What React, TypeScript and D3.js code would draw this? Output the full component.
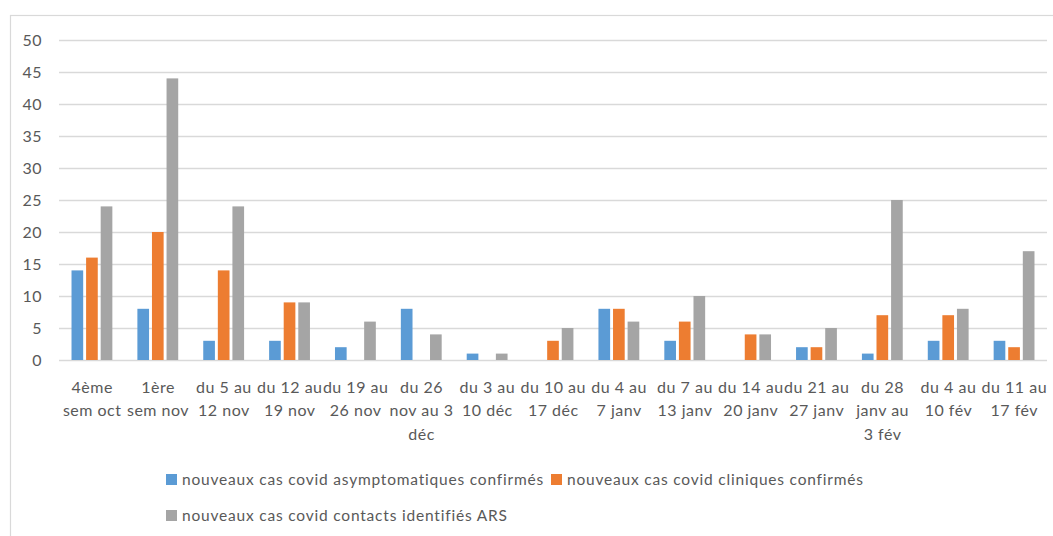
import React from "react";
import * as d3 from "d3";

const categories: string[][] = [
  ["4ème", "sem oct"],
  ["1ère", "sem nov"],
  ["du 5 au", "12 nov"],
  ["du 12 au", "19 nov"],
  ["du 19 au", "26 nov"],
  ["du 26", "nov au 3", "déc"],
  ["du 3 au", "10 déc"],
  ["du 10 au", "17 déc"],
  ["du 4 au", "7 janv"],
  ["du 7 au", "13 janv"],
  ["du 14 au", "20 janv"],
  ["du 21 au", "27 janv"],
  ["du 28", "janv au", "3 fév"],
  ["du 4 au", "10 fév"],
  ["du 11 au", "17 fév"],
];

const asymptomatiques = [14, 8, 3, 3, 2, 8, 1, 0, 8, 3, 0, 2, 1, 3, 3];
const cliniques = [16, 20, 14, 9, 0, 0, 0, 3, 8, 6, 4, 2, 7, 7, 2];
const contacts = [24, 44, 24, 9, 6, 4, 1, 5, 6, 10, 4, 5, 25, 8, 17];

const seriesNames = [
  "nouveaux cas covid asymptomatiques confirmés",
  "nouveaux cas covid cliniques confirmés",
  "nouveaux cas covid contacts identifiés ARS",
];
const colors = ["#5B9BD5", "#ED7D31", "#A5A5A5"];
const yTicks = [0, 5, 10, 15, 20, 25, 30, 35, 40, 45, 50];

const App = () => {
  const width = 1053;
  const height = 536;
  const plot = { left: 59, right: 1047, top: 40, bottom: 360 };
  const font = "Lato, 'Liberation Sans', sans-serif";
  const textColor = "#595959";
  const grid = "#D9D9D9";

  const series = [asymptomatiques, cliniques, contacts];

  // scales
  const x0 = d3
    .scaleBand<number>()
    .domain(d3.range(categories.length))
    .range([plot.left, plot.right])
    .paddingInner(0.38)
    .paddingOuter(0.19);
  const x1 = d3
    .scaleBand<number>()
    .domain([0, 1, 2])
    .range([0, x0.bandwidth()])
    .paddingInner(0.2);
  const y = d3.scaleLinear().domain([0, 50]).range([plot.bottom, plot.top]);
  const step = x0.step();

  // legend layout
  const legend = [
    { x: 166, y: 480 },
    { x: 551, y: 480 },
    { x: 166, y: 516 },
  ];

  return (
    <svg
      width={width}
      height={height}
      style={{ position: "absolute", left: 0, top: 0 }}
      fontFamily={font}
    >
      <rect x={0} y={0} width={width} height={height} fill="#fff" />
      <rect
        x={10.5}
        y={15.5}
        width={width + 10}
        height={height + 10}
        fill="none"
        stroke={grid}
        strokeWidth={1.2}
      />
      {/* grid lines */}
      {yTicks.map((t) => (
        <g key={t}>
          <line
            x1={plot.left}
            x2={plot.right}
            y1={Math.round(y(t)) + 0.5}
            y2={Math.round(y(t)) + 0.5}
            stroke={grid}
            strokeWidth={1.3}
          />
          <text
            x={42}
            y={y(t)}
            dy="0.35em"
            textAnchor="end"
            fontSize={16}
            letterSpacing={0.5}
            fill={textColor}
          >
            {t}
          </text>
        </g>
      ))}
      {/* bars */}
      {categories.map((c, i) => (
        <g key={i} transform={`translate(${x0(i)},0)`}>
          {series.map((s, j) =>
            s[i] > 0 ? (
              <rect
                key={j}
                x={x1(j)}
                y={y(s[i])}
                width={x1.bandwidth()}
                height={y(0) - y(s[i])}
                fill={colors[j]}
              />
            ) : null
          )}
        </g>
      ))}
      {/* category labels */}
      {categories.map((c, i) => (
        <text
          key={i}
          x={plot.left + step * (i + 0.5)}
          y={387}
          textAnchor="middle"
          fontSize={16}
          letterSpacing={0.5}
          fill={textColor}
        >
          {c.map((line, k) => (
            <tspan
              key={k}
              x={plot.left + step * (i + 0.5) + 0.25}
              y={387 + k * 23.5}
              dy="0.35em"
            >
              {line}
            </tspan>
          ))}
        </text>
      ))}
      {/* legend */}
      {seriesNames.map((name, j) => (
        <g key={j} transform={`translate(${legend[j].x},${legend[j].y})`}>
          <rect x={0} y={-6} width={11} height={11} fill={colors[j]} />
          <text
            x={16}
            y={0}
            dy="0.35em"
            fontSize={15.5}
            letterSpacing={0.8}
            fill={textColor}
          >
            {name}
          </text>
        </g>
      ))}
    </svg>
  );
};

export default App;
